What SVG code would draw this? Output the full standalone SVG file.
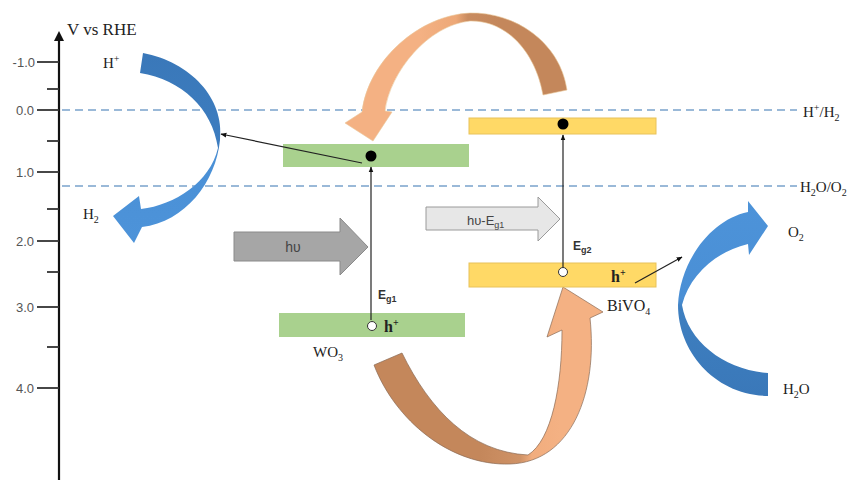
<svg xmlns="http://www.w3.org/2000/svg" width="859" height="480" viewBox="0 0 859 480">
<defs>
<style>
.serif{font-family:"Liberation Serif","Times New Roman",serif;fill:#222}
.tick{font-family:"Liberation Sans",Arial,sans-serif;font-size:13px;fill:#555;text-anchor:end}
.sans{font-family:"Liberation Sans",Arial,sans-serif}
.dash{stroke:#7aa3cc;stroke-width:1.6;stroke-dasharray:8 5;fill:none}
.green{fill:#a9d18e}
.yellow{fill:#ffd966;stroke:#e8c25a;stroke-width:1}
.thin{stroke:#222;stroke-width:1.2;fill:none;marker-end:url(#ah)}
.hole{fill:#fff;stroke:#333;stroke-width:1}
</style>
<marker id="ah" viewBox="0 0 10 10" refX="9" refY="5" markerWidth="6" markerHeight="6" orient="auto" markerUnits="userSpaceOnUse">
<path d="M0,1 L10,5 L0,9 Z" fill="#111"/>
</marker>
<linearGradient id="blueL" x1="0" y1="0" x2="0" y2="1">
<stop offset="0" stop-color="#3a78b9"/><stop offset="0.5" stop-color="#3d7dc0"/><stop offset="0.55" stop-color="#4a90d6"/><stop offset="1" stop-color="#4d93d9"/>
</linearGradient>
<linearGradient id="blueR" x1="0" y1="0" x2="0" y2="1">
<stop offset="0" stop-color="#4d93d9"/><stop offset="0.5" stop-color="#4a8fd5"/><stop offset="0.55" stop-color="#3e7fc0"/><stop offset="1" stop-color="#3a78b9"/>
</linearGradient>
<linearGradient id="orTop" gradientUnits="userSpaceOnUse" x1="420" y1="0" x2="500" y2="0">
<stop offset="0" stop-color="#f4b183"/><stop offset="0.45" stop-color="#eda877"/><stop offset="0.6" stop-color="#c98c60"/><stop offset="1" stop-color="#c4875b"/>
</linearGradient>
<linearGradient id="orBot" gradientUnits="userSpaceOnUse" x1="480" y1="0" x2="560" y2="0">
<stop offset="0" stop-color="#c4875b"/><stop offset="0.5" stop-color="#cf9266"/><stop offset="0.65" stop-color="#f1ad7e"/><stop offset="1" stop-color="#f4b183"/>
</linearGradient>
</defs>
<rect width="859" height="480" fill="#fff"/>

<g id="axis">
<line x1="59" y1="38" x2="59" y2="480" stroke="#111" stroke-width="2.2"/>
<path d="M54,41 L59,31 L64,41 Z" fill="#111"/>
<text class="serif" x="67" y="35" font-size="17">V vs RHE</text>
<g stroke="#333" stroke-width="1.8">
<line x1="37" y1="62" x2="59" y2="62"/>
<line x1="47" y1="89" x2="59" y2="89"/>
<line x1="37" y1="110" x2="59" y2="110"/>
<line x1="47" y1="141" x2="59" y2="141"/>
<line x1="37" y1="172" x2="59" y2="172"/>
<line x1="47" y1="209" x2="59" y2="209"/>
<line x1="37" y1="241" x2="59" y2="241"/>
<line x1="47" y1="272" x2="59" y2="272"/>
<line x1="37" y1="307" x2="59" y2="307"/>
<line x1="47" y1="347" x2="59" y2="347"/>
<line x1="37" y1="388" x2="59" y2="388"/>
</g>
<text class="tick" x="35" y="67">-1.0</text>
<text class="tick" x="34" y="115">0.0</text>
<text class="tick" x="34" y="177">1.0</text>
<text class="tick" x="34" y="246">2.0</text>
<text class="tick" x="34" y="312">3.0</text>
<text class="tick" x="34" y="393">4.0</text>
</g>

<g id="potentials">
<line class="dash" x1="62" y1="110" x2="797" y2="110"/>
<line class="dash" x1="62" y1="186" x2="797" y2="186"/>
<text class="serif" x="803" y="117" font-size="15">H<tspan dy="-6" font-size="10">+</tspan><tspan dy="6">/H</tspan><tspan dy="4" font-size="10">2</tspan></text>
<text class="serif" x="800" y="192" font-size="15">H<tspan dy="4" font-size="10">2</tspan><tspan dy="-4">O/O</tspan><tspan dy="4" font-size="10">2</tspan></text>
</g>

<g id="blue-left">
<path d="M143,53 C190,62 225,98 220,140 C216,182 185,222 142,227 L134,243 L113,216 L139,196 L141,209 C175,205 210,182 218,148 C212,108 182,80 140,73 Z" fill="url(#blueL)"/>
<text class="serif" x="103" y="68" font-size="15">H<tspan dy="-6" font-size="10">+</tspan></text>
<text class="serif" x="83" y="219" font-size="15">H<tspan dy="4" font-size="10">2</tspan></text>
</g>

<g id="blue-right">
<path d="M768,226 L749,255 L748,244 C715,252 690,275 682,305 C688,342 725,370 768,373 L768,396 C715,395 678,352 678,305 C680,262 710,220 748,212 L748,201 Z" fill="url(#blueR)"/>
<text class="serif" x="788" y="237" font-size="15">O<tspan dy="4" font-size="10">2</tspan></text>
<text class="serif" x="783" y="394" font-size="15">H<tspan dy="4" font-size="10">2</tspan><tspan dy="-4">O</tspan></text>
</g>

<g id="orange-top">
<path d="M543,95 L567,90 C560,42 515,12 470,13 C420,15 368,60 362,112 L345,123 L373,141 L392,112 L385,111 C390,72 428,25 470,21 C505,20 535,50 543,95 Z" fill="url(#orTop)" stroke="#e9c79a" stroke-width="0.6"/>
</g>

<g id="orange-bottom">
<path d="M374,365 L402,353 C430,410 470,452 528,455 C552,440 562,385 562,330 L547,337 L563,287 L603,312 L590,318 C598,392 572,462 510,464 C450,466 395,420 374,365 Z" fill="url(#orBot)" stroke="#8a6a55" stroke-width="0.7"/>
</g>

<g id="WO3">
<rect class="green" x="283" y="144" width="186" height="23"/>
<circle cx="371" cy="156" r="5.5" fill="#000"/>
<rect class="green" x="279" y="313" width="186" height="24"/>
<line class="thin" x1="371" y1="320" x2="371" y2="167"/>
<circle class="hole" cx="372" cy="326" r="4.5"/>
<text class="serif" x="384" y="332" font-size="16" font-weight="bold">h<tspan dy="-6" font-size="10">+</tspan></text>
<text class="sans" x="378" y="299" font-size="12" font-weight="bold" fill="#333">E<tspan dy="3" font-size="9">g1</tspan></text>
<text class="serif" x="313" y="357" font-size="15">WO<tspan dy="4" font-size="10">3</tspan></text>
</g>

<g id="BiVO4">
<rect class="yellow" x="469" y="118" width="187" height="16"/>
<circle cx="563" cy="124" r="5.5" fill="#000"/>
<rect class="yellow" x="469" y="263" width="187" height="24"/>
<line class="thin" x1="563" y1="268" x2="563" y2="135"/>
<circle class="hole" cx="563" cy="272" r="4.5"/>
<text class="serif" x="611" y="282" font-size="16" font-weight="bold">h<tspan dy="-6" font-size="10">+</tspan></text>
<text class="sans" x="573" y="250" font-size="12" font-weight="bold" fill="#333">E<tspan dy="3" font-size="9">g2</tspan></text>
<text class="serif" x="607" y="311" font-size="16">BiVO<tspan dy="4" font-size="10">4</tspan></text>
</g>

<g id="light-hv">
<path d="M234,232 L340,232 L340,218 L368,247 L340,275 L340,261 L234,261 Z" fill="#a6a6a6" stroke="#8a8a8a" stroke-width="1"/>
<text class="sans" x="293" y="252" font-size="14" fill="#444" text-anchor="middle">hυ</text>
</g>

<g id="light-hv-eg1">
<path d="M426,207 L538,207 L538,197 L560,219 L538,241 L538,230 L426,230 Z" fill="#e7e7e7" stroke="#9a9a9a" stroke-width="1"/>
<text class="sans" x="467" y="225" font-size="13" fill="#444">hυ-E<tspan dy="3" font-size="9">g1</tspan></text>
</g>

<g id="connectors">
<line class="thin" x1="362" y1="163" x2="221" y2="134"/>
<line class="thin" x1="635" y1="283" x2="682" y2="257"/>
</g>
</svg>
